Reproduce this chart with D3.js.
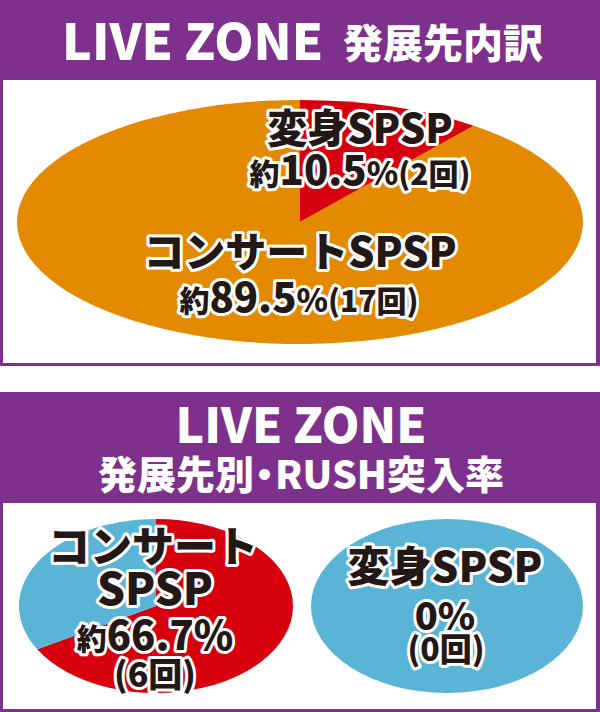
<!DOCTYPE html>
<html><head><meta charset="utf-8">
<script src="https://cdn.jsdelivr.net/npm/d3@7/dist/d3.min.js"></script>
<style>
html,body{margin:0;padding:0;background:#fff;}
svg{display:block;font-family:"Noto Sans CJK JP","Noto Sans",sans-serif;}
</style></head>
<body>
<svg id="c" width="600" height="712"></svg>
<script>
// ---- data ----
const titleTop = ["LIVE ZONE", "発展先内訳"];
const titleBottom = ["LIVE ZONE", "発展先別", "・", "RUSH突入率"];
const topCategories = ["変身SPSP", "コンサートSPSP"];
const topCounts = [2, 17];
const topPercents = ["10.5", "89.5"];
const rushCategories = ["コンサートSPSP", "変身SPSP"];
const rushRates = [66.7, 0];
const rushCounts = [6, 0];

const PURPLE = "#7d318d", ORANGE = "#e48a00", RED = "#d7000f", BLUE = "#5ab4d6", INK = "#231815";

const svg = d3.select("#c");

function panel(y0, h, headerH) {
  svg.append("rect").attr("x", 0).attr("y", y0).attr("width", 600).attr("height", h).attr("fill", PURPLE);
  svg.append("rect").attr("x", 3).attr("y", y0 + headerH).attr("width", 593).attr("height", h - headerH - 3).attr("fill", "#fff");
}
panel(0, 366, 80);
panel(392, 320, 111);

// headers
svg.append("text").attr("x", 62).attr("y", 60).attr("fill", "#fff").attr("font-size", 50).attr("font-weight", 900).text(titleTop[0]);
svg.append("text").attr("x", 343).attr("y", 58).attr("fill", "#fff").attr("font-size", 40).attr("font-weight", 900).text(titleTop[1]);
svg.append("text").attr("x", 301).attr("y", 443).attr("text-anchor", "middle").attr("fill", "#fff").attr("font-size", 48).attr("font-weight", 900).text(titleBottom[0]);
const sub = svg.append("text").attr("x", 301).attr("y", 489).attr("text-anchor", "middle").attr("fill", "#fff").attr("font-size", 39).attr("font-weight", 900);
sub.append("tspan").text(titleBottom[1]);
sub.append("tspan").attr("dx", -9).text(titleBottom[2]);
sub.append("tspan").attr("dx", -9).text(titleBottom[3]);

function ellipsePie(cx, cy, rx, ry, values, colors) {
  const pie = d3.pie().sort(null).value(d => d)(values);
  const arc = d3.arc().innerRadius(0).outerRadius(rx);
  const g = svg.append("g").attr("transform", `translate(${cx},${cy}) scale(1,${ry / rx})`);
  g.selectAll("path").data(pie).join("path")
    .attr("d", arc).attr("fill", (d, i) => colors[i]);
}

ellipsePie(300, 222, 283, 122, topCounts, [RED, ORANGE]);
ellipsePie(156, 606, 137, 87, [rushRates[0], 100 - rushRates[0]], [RED, BLUE]);
ellipsePie(447, 606, 136, 87, [rushRates[1], 100 - rushRates[1]], [RED, BLUE]);

function label(x, y, parts) {
  const t = svg.append("text").attr("x", x).attr("y", y).attr("text-anchor", "middle")
    .attr("font-weight", 900).attr("fill", INK)
    .attr("stroke", "#fff").attr("stroke-width", 6).attr("stroke-linejoin", "round")
    .attr("paint-order", "stroke");
  parts.forEach(([s, fs]) => t.append("tspan").attr("font-size", fs).text(s));
}

label(360, 143, [[topCategories[0], 40]]);
label(360, 185, [["約", 30], [topPercents[0], 40], ["%", 32], ["(" + topCounts[0] + "回)", 30]]);
label(300, 267, [[topCategories[1], 41]]);
label(299, 312, [["約", 30], [topPercents[1], 40], ["%", 32], ["(" + topCounts[1] + "回)", 30]]);

label(153, 562, [["コンサート", 42]]);
label(155, 605, [["SPSP", 44]]);
label(155, 650, [["約", 30], [String(rushRates[0]), 40], ["%", 40]]);
label(155, 687, [["(" + rushCounts[0] + "回)", 34]]);

label(445, 582, [[rushCategories[1], 42]]);
label(445, 630, [[rushRates[1] + "%", 38]]);
label(446, 661, [["(" + rushCounts[1] + "回)", 32]]);
</script>
</body></html>
